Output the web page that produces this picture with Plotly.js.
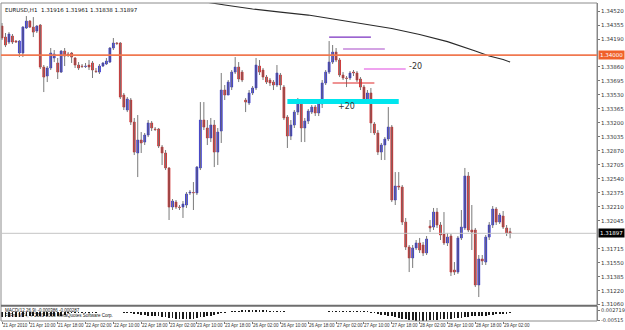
<!DOCTYPE html>
<html><head><meta charset="utf-8">
<script src="https://cdn.plot.ly/plotly-3.0.1.min.js"></script>
<style>html,body{margin:0;padding:0;background:#fff}#chart{width:625px;height:330px}</style>
</head><body><div id="chart"></div>
<script>
// ---- data (EURUSD H1, 21 Apr 2010 02:00 .. 29 Apr 2010 04:00) ----
const open = [1.34343,1.34213,1.34154,1.34225,1.34166,1.34025,1.34025,1.34320,1.34402,1.34331,
1.34284,1.34355,1.33859,1.33753,1.33848,1.33966,1.33907,1.33800,1.34048,1.34013,
1.34025,1.33966,1.33883,1.33871,1.33865,1.33883,1.33907,1.33812,1.33800,1.33871,
1.33895,1.33918,1.34084,1.34143,1.34143,1.33529,1.33352,1.33470,1.33210,1.32845,
1.32998,1.32974,1.33057,1.33199,1.33128,1.33128,1.32915,1.32845,1.32668,1.32207,
1.32266,1.32207,1.32207,1.32231,1.32373,1.32379,1.32373,1.32668,1.33234,1.33140,
1.33022,1.33175,1.32856,1.33104,1.33588,1.33529,1.33623,1.33800,1.33859,1.33800,
1.33470,1.33435,1.33553,1.33612,1.33871,1.33824,1.33741,1.33706,1.33682,1.33647,
1.33765,1.33623,1.33269,1.33045,1.33175,1.33328,1.33446,1.33140,1.33222,1.33328,
1.33387,1.33317,1.33423,1.33671,1.33800,1.33918,1.34036,1.33942,1.33765,1.33730,
1.33730,1.33800,1.33789,1.33718,1.33623,1.33470,1.33553,1.33187,1.33081,1.32856,
1.32939,1.33010,1.33151,1.32290,1.32455,1.32443,1.32030,1.31735,1.31606,1.31724,
1.31783,1.31759,1.31665,1.31983,1.31971,1.32148,1.31995,1.31889,1.31783,1.31865,
1.31464,1.31440,1.31842,1.31960,1.32573,1.31936,1.31936,1.31287,1.31594,1.31558,
1.31853,1.31995,1.32184,1.32030,1.32101,1.31960,1.31916];
const high = [1.34379,1.34261,1.34272,1.34249,1.34178,1.34178,1.34343,1.34461,1.34414,1.34449,
1.34355,1.34367,1.33883,1.33871,1.34084,1.34060,1.33966,1.34060,1.34084,1.34036,
1.34036,1.33977,1.33918,1.33895,1.33907,1.33942,1.33930,1.33848,1.33895,1.33918,
1.33966,1.34095,1.34202,1.34154,1.34154,1.33553,1.33505,1.33494,1.33258,1.33293,
1.33092,1.33081,1.33234,1.33222,1.33151,1.33140,1.32939,1.32880,1.32679,1.32302,
1.32290,1.32231,1.32278,1.32384,1.32408,1.32502,1.32691,1.33446,1.33446,1.33234,
1.33258,1.33234,1.33140,1.33789,1.33647,1.33706,1.33824,1.33977,1.33918,1.33824,
1.33494,1.33588,1.33635,1.33966,1.33942,1.33848,1.33765,1.33730,1.33706,1.33883,
1.33789,1.33647,1.33293,1.33234,1.33352,1.33494,1.33470,1.33258,1.33364,1.33411,
1.33411,1.33470,1.33706,1.33824,1.34166,1.34119,1.34084,1.33966,1.33800,1.33753,
1.33812,1.33824,1.33812,1.33741,1.33647,1.33588,1.33612,1.33210,1.33116,1.32963,
1.33033,1.33387,1.33175,1.32620,1.32620,1.32467,1.32078,1.31759,1.31759,1.31818,
1.31842,1.31794,1.31865,1.32054,1.32196,1.32196,1.32030,1.32148,1.31901,1.31889,
1.31558,1.31865,1.32172,1.32668,1.32620,1.32231,1.31960,1.31641,1.31641,1.31877,
1.32030,1.32219,1.32207,1.32137,1.32160,1.31995,1.31961];
const low = [1.34178,1.34095,1.34131,1.34131,1.34143,1.33977,1.33977,1.34308,1.34320,1.34213,
1.34261,1.33836,1.33564,1.33682,1.33824,1.33918,1.33718,1.33789,1.33871,1.33977,
1.33907,1.33848,1.33824,1.33848,1.33848,1.33824,1.33730,1.33789,1.33777,1.33859,
1.33883,1.33907,1.34060,1.34119,1.33482,1.33352,1.33328,1.33175,1.32821,1.32561,
1.32845,1.32939,1.33033,1.33104,1.33104,1.32904,1.32703,1.32644,1.32054,1.32172,
1.32184,1.32172,1.32078,1.32196,1.32349,1.32172,1.32349,1.32644,1.33116,1.32939,
1.32974,1.32679,1.32703,1.32963,1.33470,1.33529,1.33588,1.33777,1.33682,1.33682,
1.33328,1.33411,1.33529,1.33588,1.33765,1.33706,1.33659,1.33635,1.33588,1.33623,
1.33588,1.33234,1.32904,1.32998,1.33140,1.33293,1.32974,1.32974,1.33187,1.33305,
1.33281,1.33281,1.33376,1.33647,1.33777,1.33895,1.33918,1.33741,1.33706,1.33623,
1.33706,1.33753,1.33682,1.33588,1.33446,1.33435,1.33081,1.33057,1.32821,1.32762,
1.32762,1.32986,1.32266,1.32231,1.32408,1.31995,1.31700,1.31440,1.31488,1.31700,
1.31665,1.31629,1.31641,1.31912,1.31936,1.31960,1.31818,1.31759,1.31747,1.31393,
1.31405,1.31417,1.31818,1.31936,1.31912,1.31700,1.31263,1.31145,1.31523,1.31523,
1.31818,1.31960,1.31995,1.32007,1.31948,1.31865,1.31838];
const close = [1.34202,1.34119,1.34249,1.34154,1.34154,1.34166,1.34331,1.34402,1.34331,1.34272,
1.34343,1.33859,1.33741,1.33848,1.34025,1.34013,1.33800,1.34048,1.33989,1.34001,
1.33977,1.33883,1.33848,1.33865,1.33871,1.33859,1.33824,1.33806,1.33871,1.33907,
1.33930,1.34084,1.34143,1.34137,1.33505,1.33387,1.33482,1.33210,1.32856,1.32998,
1.32963,1.33057,1.33199,1.33140,1.33122,1.32927,1.32845,1.32668,1.32207,1.32278,
1.32207,1.32201,1.32243,1.32361,1.32384,1.32373,1.32679,1.33234,1.33151,1.33022,
1.33175,1.32856,1.33092,1.33588,1.33529,1.33682,1.33800,1.33859,1.33718,1.33706,
1.33446,1.33553,1.33612,1.33883,1.33800,1.33741,1.33682,1.33671,1.33647,1.33789,
1.33647,1.33258,1.33045,1.33175,1.33328,1.33446,1.33140,1.33222,1.33340,1.33387,
1.33317,1.33423,1.33671,1.33800,1.33918,1.34036,1.33942,1.33765,1.33730,1.33724,
1.33789,1.33789,1.33706,1.33623,1.33470,1.33553,1.33199,1.33081,1.32856,1.32939,
1.33010,1.33151,1.32290,1.32455,1.32443,1.32030,1.31735,1.31606,1.31724,1.31783,
1.31700,1.31665,1.31830,1.31960,1.32148,1.31995,1.31877,1.31783,1.31853,1.31440,
1.31440,1.31842,1.31971,1.32573,1.31936,1.31912,1.31287,1.31594,1.31570,1.31853,
1.31995,1.32184,1.32030,1.32113,1.31971,1.31901,1.31897];
// MACD(12,26,9) histogram
const macd = [-0.0028,-0.0028,-0.0027,-0.0027,-0.0026,-0.0026,-0.0024,-0.0022,-0.0021,-0.0020,
-0.0020,-0.0021,-0.0022,-0.0022,-0.0021,-0.0020,-0.0019,-0.0018,-0.0017,
-0.0003,-0.0003,-0.0003,-0.0002,-0.0002,-0.0002,-0.0002,-0.0002,-0.0002,-0.0001,-0.0001,-0.0001,0.0000,0.0001,0.0001,-0.0001,-0.0002,-0.0003,-0.0004,
-0.0008,-0.0012,-0.0015,-0.0017,-0.0018,-0.0019,-0.0020,-0.0022,-0.0024,-0.0026,-0.0030,-0.0033,-0.0035,-0.0037,-0.0038,-0.0038,-0.0037,-0.0036,-0.0033,
-0.0028,-0.0024,-0.0021,-0.0018,-0.0015,-0.0010,-0.0005,-0.0002,
0.0003,0.0005,0.0007,0.0008,0.0009,0.0009,0.0009,0.0010,0.0010,0.0010,0.0010,0.0009,0.0008,0.0007,0.0006,0.0005,0.0004,
0.0001,0.0000,0.0000,-0.0001,-0.0001,0.0000,0.0000,0.0000,0.0001,0.0001,0.0001,0.0002,
0.0004,0.0006,0.0007,0.0007,0.0008,0.0008,0.0008,0.0007,0.0007,0.0006,0.0005,0.0004,
-0.0002,-0.0006,-0.0010,-0.0013,-0.0016,-0.0018,-0.0020,-0.0026,-0.0030,-0.0034,-0.0038,-0.0042,
-0.0044,-0.0045,-0.0046,-0.0046,-0.0045,-0.0044,-0.0042,-0.0040,-0.0038,-0.0036,-0.0035,-0.0034,-0.0033,-0.0032,-0.0030,-0.0028,-0.0025,-0.0022,-0.0021,-0.0020,-0.0019,-0.0018,-0.0016,-0.0014,-0.0012,-0.0010,-0.0009,-0.0008,-0.0007];
// moving average (bar index, value)
const maIdx = [55,56,64,72,80,88,96,104,112,120,128,136,140,144,146];
const maVal = [1.34674,1.34644,1.34591,1.34544,1.34508,1.34473,1.34420,1.34367,1.34314,1.34243,1.34160,1.34048,1.33989,1.33948,1.33918];
const timeLabels = ["21 Apr 2010","21 Apr 10:00","21 Apr 18:00","22 Apr 02:00","22 Apr 10:00","22 Apr 18:00","23 Apr 02:00","23 Apr 10:00","23 Apr 18:00","26 Apr 02:00","26 Apr 10:00","26 Apr 18:00","27 Apr 02:00","27 Apr 10:00","27 Apr 18:00","28 Apr 02:00","28 Apr 10:00","28 Apr 18:00","29 Apr 02:00"];
const priceTicks = [1.34520,1.34355,1.34190,1.33860,1.33695,1.33530,1.33365,1.33200,1.33035,1.32870,1.32705,1.32540,1.32375,1.32210,1.32045,1.31715,1.31550,1.31385,1.31220,1.31060];
const levelLine = 1.34000;
const lastPrice = 1.31897;
const macdTicks = [0.0011, -0.0042];
const macdTickText = ["0.002719", "-0.00515"];

// ---- build ----
const n = open.length;
const idx = open.map((_, i) => i);
const wx = [], wy = [];
for (let i = 0; i < n; i++) { wx.push(i, i, null); wy.push(low[i], high[i], null); }
const base = idx.map(i => Math.min(open[i], close[i]));
const body = idx.map(i => Math.abs(close[i] - open[i]));
const bcol = idx.map(i => close[i] >= open[i] ? '#1616c8' : '#c80c0c');

const traces = [
  {type:'scatter', mode:'lines', x:maIdx, y:maVal, line:{color:'#2a2a2a', width:1.2}, xaxis:'x', yaxis:'y', hoverinfo:'skip'},
  {type:'scatter', mode:'lines', x:wx, y:wy, line:{color:'#7a7a7a', width:1}, xaxis:'x', yaxis:'y', hoverinfo:'skip'},
  {type:'bar', x:idx, y:body, base:base, width:0.55, marker:{color:bcol, line:{color:bcol, width:0.6}}, xaxis:'x', yaxis:'y', hoverinfo:'skip'},
  {type:'bar', x:idx, y:macd, width:0.5, marker:{color:'#1a1a1a'}, xaxis:'x', yaxis:'y2', hoverinfo:'skip'}
];

const tickIdx = timeLabels.map((_, k) => k * 8);
const small = 'Liberation Sans, Arial, sans-serif';
const font = {family:'DejaVu Sans, Arial, sans-serif', size:6, color:'#222'};

const xLabelAnn = timeLabels.map((t, k) => ({xref:'x', yref:'paper', x:tickIdx[k], y:0, xanchor:'left', yanchor:'top',
  xshift:-0.5, yshift:-1, showarrow:false, text:t, borderpad:0, font:{family:small, size:4.5, color:'#333'}}));

const layout = {
  width:625, height:330, margin:{l:1, r:28, t:3, b:9},
  paper_bgcolor:'#fff', plot_bgcolor:'#fff', showlegend:false, hovermode:false,
  font:font, bargap:0,
  xaxis:{range:[-0.29, 170.97], anchor:'y2', showgrid:false, zeroline:false, showline:false,
    tickmode:'array', tickvals:tickIdx, ticks:'outside', ticklen:2, tickcolor:'#777', showticklabels:false},
  yaxis:{domain:[0.0503,1], range:[1.31051, 1.34615], side:'right', showgrid:false, zeroline:false,
    showline:true, linecolor:'#808080', linewidth:1, tickmode:'array', tickvals:priceTicks,
    ticktext:priceTicks.map(v => v.toFixed(5)), ticks:'outside', ticklen:2, tickcolor:'#777', tickfont:{size:5.5, color:'#333'}},
  yaxis2:{domain:[0,0.0456], range:[-0.0047, 0.0030], side:'right', showgrid:false, zeroline:false,
    showline:true, linecolor:'#808080', tickmode:'array', tickvals:macdTicks, ticktext:macdTickText,
    ticks:'outside', ticklen:2, tickcolor:'#777', tickfont:{size:5, color:'#333'}},
  shapes:[
    {type:'rect', xref:'paper', yref:'paper', x0:0, x1:1, y0:0, y1:1, line:{color:'#8c8c8c', width:1}},
    {type:'line', xref:'paper', yref:'paper', x0:0, x1:1, y0:0.048, y1:0.048, line:{color:'#6e6e6e', width:2}},
    {type:'line', xref:'paper', yref:'y', x0:0, x1:1, y0:lastPrice, y1:lastPrice, line:{color:'#c4c4c4', width:1}},
    {type:'line', xref:'paper', yref:'y', x0:0, x1:1, y0:levelLine, y1:levelLine, line:{color:'#f07850', width:1.6}},
    {type:'rect', xref:'x', yref:'y', x0:82, x1:114, y0:1.33423, y1:1.33482, fillcolor:'#00e6ee', line:{width:0}},
    {type:'line', xref:'x', yref:'y', x0:94, x1:106, y0:1.34213, y1:1.34213, line:{color:'#7a30c0', width:1.2}},
    {type:'line', xref:'x', yref:'y', x0:98, x1:110, y0:1.34072, y1:1.34072, line:{color:'#a848c8', width:1.2}},
    {type:'line', xref:'x', yref:'y', x0:104, x1:116, y0:1.33836, y1:1.33836, line:{color:'#e048e0', width:1.2}},
    {type:'line', xref:'x', yref:'y', x0:95, x1:107, y0:1.33671, y1:1.33671, line:{color:'#e02828', width:1.2}}
  ],
  annotations:[
    {xref:'paper', yref:'paper', x:0.004, y:1, xanchor:'left', yanchor:'top', yshift:-2, showarrow:false,
      text:'EURUSD,H1  1.31916 1.31961 1.31838 1.31897', font:{size:5.5, color:'#111'}},
    {xref:'x', yref:'y', x:116.5, y:1.33868, xanchor:'left', yanchor:'middle', showarrow:false, text:'-20', font:{size:8, color:'#333'}},
    {xref:'x', yref:'y', x:96, y:1.33390, xanchor:'left', yanchor:'middle', showarrow:false, text:'+20', font:{size:8, color:'#333'}},
    {xref:'paper', yref:'y', x:1, y:levelLine, xanchor:'left', yanchor:'middle', xshift:1, showarrow:false,
      text:levelLine.toFixed(5), bgcolor:'#f0602a', font:{size:5.5, color:'#fff'}, borderpad:1},
    {xref:'paper', yref:'y', x:1, y:lastPrice, xanchor:'left', yanchor:'middle', xshift:1, showarrow:false,
      text:lastPrice.toFixed(5), bgcolor:'#000', font:{size:5.5, color:'#fff'}, borderpad:1},
    {xref:'paper', yref:'paper', x:0.004, y:0.047, xanchor:'left', yanchor:'top', showarrow:false,
      text:'MACD(12,26,9) -0.000386 -0.000287', font:{family:small, size:4.5, color:'#111'}},
    {xref:'paper', yref:'paper', x:0.004, y:0.0, xanchor:'left', yanchor:'bottom', yshift:1, showarrow:false,
      text:'FxPro MT4, © 2001-2008 MetaQuotes Software Corp.', font:{family:small, size:4.5, color:'#111'}}
  ].concat(xLabelAnn)
};
Plotly.newPlot('chart', traces, layout, {staticPlot:true, displayModeBar:false});
</script></body></html>
